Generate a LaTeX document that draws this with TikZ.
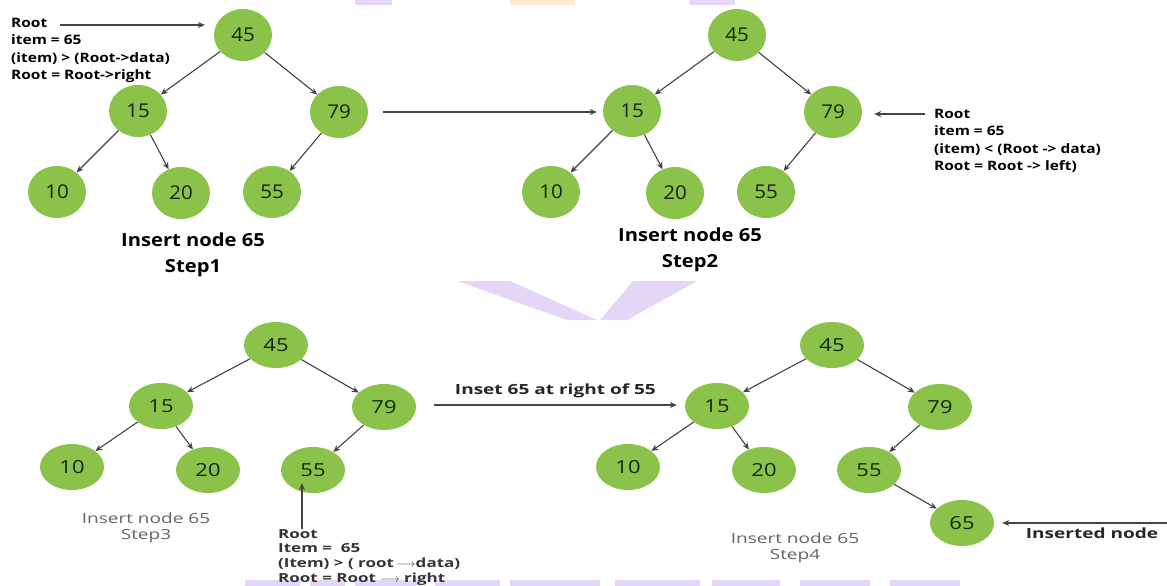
\documentclass[tikz,border=0pt]{standalone}
\usepackage{fontspec}
\setmainfont{Open Sans}
\newfontfamily\notefont{Open Sans}[FakeStretch=1.19]
\newfontfamily\capfont{Open Sans}[FakeStretch=1.12]
\newfontfamily\lowfont{Open Sans}[FakeStretch=1.36]
\newfontfamily\keyfont{Open Sans}[FakeStretch=1.08]
\newfontfamily\lowkeyfont{Open Sans}[FakeStretch=1.22]
\usetikzlibrary{arrows.meta,shapes.geometric,positioning}
\definecolor{leaf}{RGB}{139,195,74}
\definecolor{numtxt}{RGB}{22,36,10}
\definecolor{linegray}{RGB}{68,68,68}
\definecolor{captgray}{RGB}{100,100,100}
\definecolor{wmark}{RGB}{229,213,246}
\definecolor{wmarkb}{RGB}{253,236,208}
\begin{document}
\begin{tikzpicture}[x=1pt,y=-1pt,
  key/.style={ellipse,fill=leaf,text=numtxt,minimum width=58pt,minimum height=52pt,inner sep=0pt,font=\keyfont\fontsize{19}{19}\selectfont},
  keyb/.style={key,minimum width=64pt,minimum height=46pt,font=\lowkeyfont\fontsize{18}{18}\selectfont},
  link/.style={draw=linegray,line width=1.1pt,-{Stealth[length=7pt,width=6pt]}},
  note/.style={align=left,anchor=north west,inner sep=0pt,font=\notefont\fontsize{13}{17.5}\selectfont\bfseries},
  caption/.style={align=center,inner sep=0pt,font=\capfont\fontsize{18}{26}\selectfont\bfseries},
  smallcap/.style={align=center,inner sep=0pt,text=captgray,font=\lowfont\fontsize{14}{15.5}\selectfont},
  lowlabel/.style={inner sep=0pt,text=black!85,font=\lowfont\fontsize{14}{14}\selectfont\bfseries}]
\useasboundingbox (0,0) rectangle (1167,586);
\fill[white] (0,0) rectangle (1167,586);
% faint watermark
\fill[wmark] (457,281) -- (510,281) -- (597,320) -- (567,320) -- cycle;
\fill[wmark] (633,281) -- (697,281) -- (627,320) -- (600,320) -- cycle;
\fill[wmark] (355,0) rectangle (392,5);
\fill[wmarkb] (510,0) rectangle (575,5);
\fill[wmark] (690,0) rectangle (735,5);
\foreach \xa/\xb in {245/300,310/345,355/420,435/500,510/600,615/700,712/780,800/870,890/960}
  \fill[wmark] (\xa,580) rectangle (\xb,586);

% step 1 and step 2
\foreach \t/\dx in {a/0,b/494}{
  \node[key] (\t45) at (243+\dx,35) {45};
  \node[key] (\t15) at (138+\dx,111) {15};
  \node[key] (\t79) at (339+\dx,112) {79};
  \node[key] (\t10) at (57+\dx,192) {10};
  \node[key] (\t20) at (181+\dx,193) {20};
  \node[key] (\t55) at (272+\dx,192) {55};
  \draw[link] (\t45) -- (\t15);
  \draw[link] (\t45) -- (\t79);
  \draw[link] (\t15) -- (\t10);
  \draw[link] (\t15) -- (\t20);
  \draw[link] (\t79) -- (\t55);
}
% step 3 and step 4
\foreach \t/\dx in {c/0,d/556}{
  \node[keyb] (\t45) at (276+\dx,345) {45};
  \node[keyb] (\t15) at (161+\dx,406) {15};
  \node[keyb] (\t79) at (384+\dx,407) {79};
  \node[keyb] (\t10) at (72+\dx,467) {10};
  \node[keyb] (\t20) at (208+\dx,470) {20};
  \node[keyb] (\t55) at (313+\dx,470) {55};
  \draw[link] (\t45) -- (\t15);
  \draw[link] (\t45) -- (\t79);
  \draw[link] (\t15) -- (\t10);
  \draw[link] (\t15) -- (\t20);
  \draw[link] (\t79) -- (\t55);
}
\node[keyb] (d65) at (962,523) {65};
\draw[link] (d55) -- (d65);

% notes
\node[note] (anote) at (11,18) {Root\\item = 65\\(item) > (Root->data)\\Root = Root->right};
\coordinate (aroot) at (60,25);
\draw[link] (aroot) -- ([xshift=-9pt]aroot -| a45.west);

\node[note] (bnote) at (934,109) {Root\\item = 65\\(item) < (Root -> data)\\Root = Root -> left)};
\coordinate (broot) at (925,114);
\draw[link] (broot) -- ([xshift=12pt]b79.east |- broot);

\node[note,text=black!80,font=\lowfont\fontsize{12.5}{14.7}\selectfont\bfseries] (cnote) at (278,529)
  {Root\\Item =\ \ 65\\(Item) > ( root $\!\longrightarrow$data)\\Root = Root $\longrightarrow$ right};
\coordinate (croot) at (302,529);
\draw[link] (croot) -- ([yshift=10pt]c55.south -| croot);

\coordinate (dnew) at (1167,523);
\draw[link] (dnew) -- ([xshift=8pt]d65.east);
\node[lowlabel] (dnote) at (1092,533) {Inserted node};

% step arrows
\draw[link] ([xshift=15pt]a79.east) -- ([xshift=-6pt]b15.west |- a79.east);
\coordinate (cstart) at (434,405);
\draw[link] (cstart) -- ([xshift=-8pt]d15.west |- cstart)
  node[lowlabel,midway,above=7pt] (clabel) {Inset 65 at right of 55};

% captions
\node[caption] (acap) at (193,255) {Insert node 65\\Step1};
\node[caption] (bcap) at (690,250) {Insert node 65\\Step2};
\node[smallcap] (ccap) at (146,528) {Insert node 65\\Step3};
\node[smallcap] (dcap) at (795,548) {Insert node 65\\Step4};
\end{tikzpicture}
\end{document}
